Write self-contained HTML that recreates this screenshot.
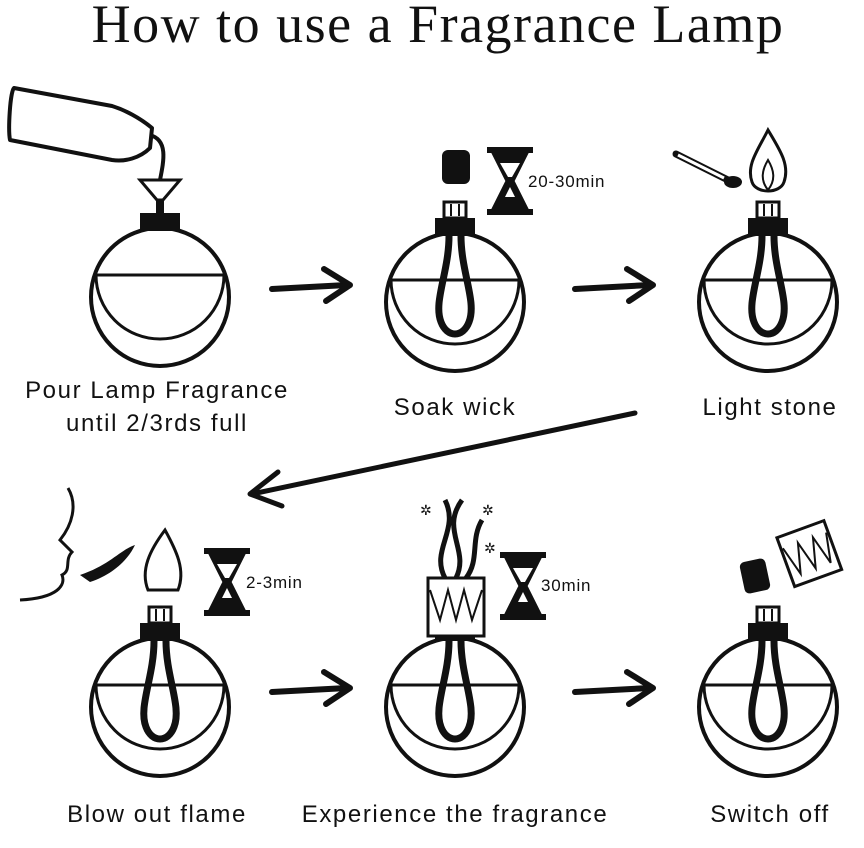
<!DOCTYPE html>
<html><head><meta charset="utf-8"><style>
body{margin:0;background:#fff;width:864px;height:848px;overflow:hidden}
svg{display:block}
.t{font-family:"Liberation Sans",sans-serif;font-size:24px;letter-spacing:1.6px;fill:#111;text-anchor:middle}
.s{font-family:"Liberation Sans",sans-serif;font-size:17px;letter-spacing:0.8px;fill:#111}
</style></head><body>
<svg width="864" height="848" viewBox="0 0 864 848" xmlns="http://www.w3.org/2000/svg">
<defs>
<g id="bottle">
 <circle cx="0" cy="0" r="69" fill="#fff" stroke="#111" stroke-width="4"/>
 <path d="M-64,-22 A64,64 0 1 0 64,-22 Z" fill="none" stroke="#111" stroke-width="3"/>
 <line x1="-64" y1="-22" x2="64" y2="-22" stroke="#111" stroke-width="3"/>
 <rect x="-20" y="-84" width="40" height="18" fill="#111"/>
</g>
<g id="wick">
 <path d="M-6,-66 C-6,-30 -22,0 -14,20 C-8,36 8,36 14,20 C22,0 6,-30 6,-66" fill="none" stroke="#111" stroke-width="7"/>
 <rect x="-11" y="-100" width="22" height="16" fill="#fff" stroke="#111" stroke-width="3"/>
 <line x1="-4" y1="-98" x2="-4" y2="-86" stroke="#111" stroke-width="2"/>
 <line x1="4" y1="-98" x2="4" y2="-86" stroke="#111" stroke-width="2"/>
</g>
<g id="arrow">
 <path d="M0,2 L75,-2" stroke="#111" stroke-width="6" stroke-linecap="round"/>
 <path d="M52,-18 L78,-2 L54,14" fill="none" stroke="#111" stroke-width="6" stroke-linecap="round" stroke-linejoin="round"/>
</g>
<g id="hour">
 <rect x="-23" y="-34" width="46" height="6" fill="#111"/>
 <rect x="-23" y="28" width="46" height="6" fill="#111"/>
 <path d="M-17,-28 L17,-28 L3,0 L17,28 L-17,28 L-3,0 Z" fill="#111" stroke="#111" stroke-width="3"/>
 <path d="M-10,-18 L10,-18 L2,-4 L-2,-4 Z" fill="#fff"/>
 <path d="M0,6 L5,16 L-5,16 Z" fill="#fff"/>
</g>
</defs>
<text x="438" y="42" font-family="Liberation Serif,serif" font-size="54" letter-spacing="1.5" text-anchor="middle" fill="#111">How to use a Fragrance Lamp</text>

<!-- Step 1 -->
<g transform="translate(160,297)"><use href="#bottle"/></g>
<path d="M140,180 L180,180 L163,200 L157,200 Z" fill="#fff" stroke="#111" stroke-width="3"/>
<rect x="156" y="200" width="8" height="13" fill="#111"/>
<path d="M14,88 C10,92 8,130 10,140 L112,160 C125,162 140,158 150,148 L152,128 C140,118 125,110 112,106 Z" fill="#fff" stroke="#111" stroke-width="4" stroke-linejoin="round"/>
<path d="M150,135 C168,140 164,160 160,180" fill="none" stroke="#111" stroke-width="4"/>
<text class="t" x="157" y="398">Pour Lamp Fragrance</text>
<text class="t" x="157" y="431">until 2/3rds full</text>

<use href="#arrow" transform="translate(272,287)"/>

<!-- Step 2 -->
<g transform="translate(455,302)"><use href="#bottle"/><use href="#wick"/></g>
<rect x="442" y="150" width="28" height="34" rx="6" fill="#111"/>
<use href="#hour" transform="translate(510,181)"/>
<text class="s" x="528" y="187">20-30min</text>
<text class="t" x="455" y="415">Soak wick</text>

<use href="#arrow" transform="translate(575,287)"/>

<!-- Step 3 -->
<g transform="translate(768,302)"><use href="#bottle"/><use href="#wick"/></g>
<path d="M768,130 C780,150 790,165 784,182 C780,194 756,194 752,182 C746,165 758,150 768,130 Z" fill="#fff" stroke="#111" stroke-width="3"/>
<path d="M768,160 C774,170 776,180 768,190 C760,180 762,170 768,160Z" fill="#fff" stroke="#111" stroke-width="2"/>
<line x1="676" y1="154" x2="728" y2="180" stroke="#111" stroke-width="7" stroke-linecap="round"/>
<line x1="678" y1="155" x2="724" y2="178" stroke="#fff" stroke-width="3"/>
<ellipse cx="733" cy="182" rx="9" ry="6" fill="#111"/>
<text class="t" x="770" y="415">Light stone</text>

<!-- long arrow -->
<path d="M635,413 L252,494" stroke="#111" stroke-width="5" stroke-linecap="round"/>
<path d="M278,472 L250,494 L282,506" fill="none" stroke="#111" stroke-width="5" stroke-linecap="round" stroke-linejoin="round"/>

<!-- Step 4 -->
<g transform="translate(160,707)"><use href="#bottle"/><use href="#wick"/></g>
<path d="M165,530 C150,550 140,570 148,590 L178,590 C186,570 176,550 165,530Z" fill="#fff" stroke="#111" stroke-width="3"/>
<path d="M68,488 C78,505 72,525 60,540 L72,552 C64,560 72,570 62,575 C66,585 58,598 20,600" fill="none" stroke="#111" stroke-width="3"/>
<path d="M80,575 C110,565 120,550 135,545 C128,560 112,575 90,582 Z" fill="#111"/>
<use href="#hour" transform="translate(227,582)"/>
<text class="s" x="246" y="588">2-3min</text>
<text class="t" x="157" y="822">Blow out flame</text>

<use href="#arrow" transform="translate(272,690)"/>

<!-- Step 5 -->
<g transform="translate(455,707)"><use href="#bottle"/><use href="#wick"/></g>
<rect x="428" y="578" width="56" height="58" fill="#fff" stroke="#111" stroke-width="3"/>
<path d="M430,590 L440,620 L448,590 L456,620 L464,590 L472,620 L482,590" fill="none" stroke="#111" stroke-width="2"/>
<path d="M445,578 C430,550 460,530 445,500 M456,578 C470,550 440,530 462,500 M466,578 C480,560 470,540 482,520" fill="none" stroke="#111" stroke-width="5"/>
<text x="420" y="515" font-size="14" fill="#111">✲</text><text x="482" y="515" font-size="14" fill="#111">✲</text><text x="484" y="553" font-size="14" fill="#111">✲</text>
<use href="#hour" transform="translate(523,586)"/>
<text class="s" x="541" y="591">30min</text>
<text class="t" x="455" y="822">Experience the fragrance</text>

<use href="#arrow" transform="translate(575,690)"/>

<!-- Step 6 -->
<g transform="translate(768,707)"><use href="#bottle"/><use href="#wick"/></g>
<rect x="742" y="560" width="26" height="32" rx="5" fill="#111" transform="rotate(-12 755 576)"/>
<g transform="rotate(-20 808 553)"><rect x="784" y="528" width="50" height="52" fill="#fff" stroke="#111" stroke-width="3"/>
<path d="M786,540 L794,570 L802,540 L810,570 L818,540 L826,570 L832,540" fill="none" stroke="#111" stroke-width="2"/></g>
<text class="t" x="770" y="822">Switch off</text>
</svg>
</body></html>
